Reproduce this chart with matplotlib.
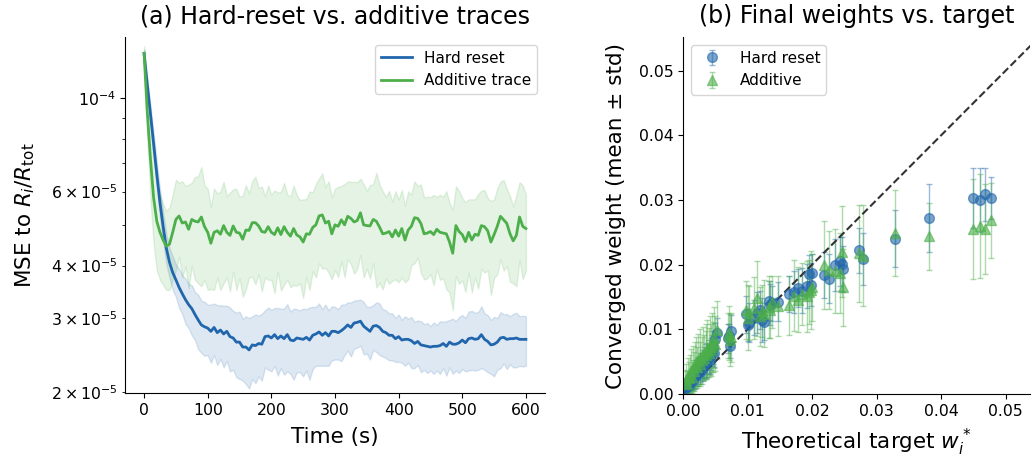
import numpy as np
import matplotlib
matplotlib.use("Agg")
import matplotlib.pyplot as plt
from matplotlib.ticker import FormatStrFormatter, MultipleLocator

# ---------------- Panel (a) data: MSE traces (values in units of 1e-5) ----------------
time_s = list(range(0, 601, 5))

hard_mean = [12.8, 10.8, 9.2, 7.8, 6.6, 5.65, 4.95, 4.40, 4.07, 3.85,
             3.70, 3.55, 3.43, 3.32, 3.23, 3.16, 3.06, 2.97, 2.89, 2.86,
             2.84, 2.79, 2.85, 2.77, 2.81, 2.75, 2.79, 2.71, 2.69, 2.63,
             2.63, 2.56, 2.56, 2.52, 2.59, 2.58, 2.61, 2.60, 2.71, 2.72,
             2.69, 2.74, 2.68, 2.72, 2.68, 2.74, 2.66, 2.65, 2.69, 2.68,
             2.67, 2.70, 2.66, 2.73, 2.75, 2.78, 2.73, 2.77, 2.72, 2.79,
             2.79, 2.77, 2.80, 2.84, 2.89, 2.85, 2.92, 2.93, 2.95, 2.87,
             2.83, 2.79, 2.87, 2.88, 2.85, 2.79, 2.77, 2.73, 2.73, 2.68,
             2.71, 2.66, 2.67, 2.67, 2.65, 2.61, 2.64, 2.59, 2.58, 2.57,
             2.56, 2.57, 2.57, 2.58, 2.61, 2.57, 2.63, 2.60, 2.60, 2.62,
             2.66, 2.62, 2.68, 2.69, 2.67, 2.68, 2.74, 2.67, 2.64, 2.59,
             2.60, 2.63, 2.69, 2.70, 2.67, 2.68, 2.68, 2.69, 2.67, 2.67,
             2.67]
hard_std = [0.30, 0.38, 0.42, 0.45, 0.45, 0.44, 0.40, 0.36, 0.33, 0.35,
            0.33, 0.38, 0.36, 0.41, 0.39, 0.43, 0.40, 0.44, 0.41, 0.42,
            0.39, 0.44, 0.40, 0.45, 0.41, 0.46, 0.42, 0.47, 0.43, 0.46,
            0.48, 0.43, 0.47, 0.48, 0.44, 0.48, 0.43, 0.47, 0.42, 0.46,
            0.45, 0.43, 0.49, 0.44, 0.48, 0.50, 0.45, 0.51, 0.46, 0.45,
            0.49, 0.45, 0.52, 0.46, 0.44, 0.47, 0.42, 0.46, 0.41, 0.41,
            0.40, 0.38, 0.43, 0.39, 0.38, 0.42, 0.38, 0.38, 0.37, 0.41,
            0.36, 0.40, 0.35, 0.39, 0.40, 0.36, 0.36, 0.35, 0.35, 0.32,
            0.35, 0.31, 0.36, 0.32, 0.37, 0.33, 0.32, 0.36, 0.32, 0.35,
            0.31, 0.36, 0.32, 0.37, 0.33, 0.38, 0.34, 0.39, 0.35, 0.40,
            0.39, 0.38, 0.43, 0.43, 0.42, 0.42, 0.46, 0.41, 0.41, 0.38,
            0.42, 0.37, 0.41, 0.36, 0.40, 0.35, 0.39, 0.40, 0.36, 0.37,
            0.36]
add_mean = [12.8, 9.3, 7.2, 5.8, 5.1, 4.8, 4.6, 4.45, 4.5, 4.8,
            5.15, 5.25, 5.05, 5.08, 4.88, 5.15, 5.1, 5.08, 5.22, 4.95,
            4.8, 4.52, 4.8, 4.84, 4.75, 4.98, 4.8, 4.72, 4.97, 4.8,
            4.78, 4.62, 4.86, 4.85, 5.06, 5.06, 4.97, 4.82, 4.8, 4.95,
            4.8, 4.74, 4.92, 4.74, 4.95, 4.8, 4.7, 4.9, 4.73, 4.68,
            4.55, 4.76, 4.75, 4.93, 5.0, 5.25, 5.28, 5.05, 5.1, 4.76,
            5.0, 4.96, 5.14, 5.0, 5.24, 5.18, 5.08, 5.12, 5.34, 5.0,
            4.98, 4.97, 5.15, 5.1, 4.94, 4.76, 4.78, 4.82, 4.68, 4.86,
            4.7, 4.9, 4.6, 4.86, 4.96, 5.2, 5.18, 5.04, 4.76, 4.78,
            4.82, 4.74, 4.88, 4.8, 4.78, 4.76, 4.55, 4.28, 4.98, 4.82,
            4.74, 4.56, 4.8, 4.6, 4.75, 4.72, 4.98, 4.95, 4.84, 4.55,
            4.74, 4.96, 5.24, 5.14, 5.04, 4.76, 4.58, 4.72, 5.22, 4.96,
            4.9]
add_std = [0.5, 1.2, 1.4, 1.3, 1.2, 1.1, 1.0, 0.95, 1.0, 1.1,
           1.25, 1.05, 1.3, 1.1, 1.35, 1.15, 1.4, 1.45, 1.65, 1.25,
           1.3, 1.0, 1.3, 1.1, 1.25, 1.35, 1.05, 1.25, 1.1, 1.3,
           1.05, 1.25, 1.35, 1.1, 1.3, 1.45, 1.15, 1.35, 1.05, 1.25,
           1.1, 1.3, 1.05, 1.25, 1.35, 1.1, 1.15, 1.3, 1.15, 1.05,
           1.2, 1.0, 1.25, 1.05, 1.25, 1.2, 1.35, 1.1, 1.25, 1.05,
           1.1, 1.2, 1.05, 1.25, 1.1, 1.15, 1.25, 1.2, 1.1, 1.25,
           1.05, 1.25, 1.1, 1.55, 1.3, 1.25, 1.05, 1.2, 1.0, 1.15,
           1.05, 1.15, 0.95, 1.15, 0.95, 1.15, 1.0, 1.2, 1.05, 1.05,
           1.0, 1.15, 0.95, 1.1, 1.05, 1.25, 1.1, 1.15, 1.2, 1.2,
           1.05, 1.1, 0.95, 1.15, 1.0, 1.2, 1.05, 1.1, 0.95, 1.15,
           1.0, 1.15, 1.1, 1.25, 1.05, 1.1, 0.95, 1.15, 1.1, 1.25,
           1.0]

# ---------------- Panel (b) data: converged weights ----------------
target = [0.0003, 0.0005, 0.0006, 0.0008, 0.0009, 0.0011, 0.0012, 0.0014, 0.0015, 0.0017,
          0.0019, 0.0020, 0.0022, 0.0024, 0.0026, 0.0027, 0.0029, 0.0031, 0.0033, 0.0035,
          0.0036, 0.0038, 0.0040, 0.0042, 0.0043, 0.0045, 0.0047, 0.0048, 0.0050, 0.0053,
          0.0069, 0.0071, 0.0073, 0.0074, 0.0098, 0.0100, 0.0102, 0.0110, 0.0115, 0.0120,
          0.0122, 0.0126, 0.0133, 0.0135, 0.0138, 0.0148, 0.0164, 0.0172, 0.0179, 0.0184,
          0.0192, 0.0195, 0.0198, 0.0200, 0.0218, 0.0227, 0.0236, 0.0243, 0.0246, 0.0248,
          0.0273, 0.0279, 0.0328, 0.0381, 0.0450, 0.0461, 0.0468, 0.0478]
hard_w = [0.0009, 0.0013, 0.0011, 0.0016, 0.0014, 0.0019, 0.0022, 0.0020, 0.0026, 0.0024,
          0.0029, 0.0033, 0.0030, 0.0037, 0.0034, 0.0041, 0.0045, 0.0040, 0.0048, 0.0052,
          0.0046, 0.0055, 0.0058, 0.0053, 0.0062, 0.0067, 0.0072, 0.0064, 0.0085, 0.0094,
          0.0086, 0.0089, 0.0074, 0.0097, 0.0123, 0.0107, 0.0110, 0.0118, 0.0126, 0.0130,
          0.0115, 0.0112, 0.0144, 0.0138, 0.0140, 0.0143, 0.0155, 0.0158, 0.0164, 0.0160,
          0.0167, 0.0185, 0.0169, 0.0187, 0.0184, 0.0178, 0.0200, 0.0205, 0.0201, 0.0193,
          0.0222, 0.0209, 0.0240, 0.0272, 0.0303, 0.0300, 0.0309, 0.0303]
hard_sd = [0.0010, 0.0012, 0.0011, 0.0014, 0.0012, 0.0015, 0.0016, 0.0014, 0.0018, 0.0016,
           0.0019, 0.0020, 0.0018, 0.0021, 0.0019, 0.0022, 0.0023, 0.0020, 0.0024, 0.0025,
           0.0021, 0.0024, 0.0026, 0.0022, 0.0025, 0.0024, 0.0026, 0.0023, 0.0025, 0.0024,
           0.0022, 0.0020, 0.0018, 0.0025, 0.0028, 0.0025, 0.0030, 0.0027, 0.0032, 0.0030,
           0.0034, 0.0028, 0.0030, 0.0032, 0.0027, 0.0030, 0.0028, 0.0032, 0.0030, 0.0035,
           0.0034, 0.0030, 0.0033, 0.0030, 0.0035, 0.0038, 0.0040, 0.0038, 0.0042, 0.0036,
           0.0035, 0.0040, 0.0044, 0.0053, 0.0046, 0.0050, 0.0041, 0.0033]
add_w = [0.0017, 0.0022, 0.0015, 0.0028, 0.0024, 0.0031, 0.0036, 0.0027, 0.0040, 0.0035,
         0.0044, 0.0050, 0.0041, 0.0053, 0.0047, 0.0058, 0.0052, 0.0062, 0.0056, 0.0066,
         0.0060, 0.0070, 0.0064, 0.0075, 0.0068, 0.0080, 0.0073, 0.0087, 0.0078, 0.0099,
         0.0091, 0.0094, 0.0084, 0.0088, 0.0130, 0.0118, 0.0125, 0.0133, 0.0148, 0.0120,
         0.0128, 0.0124, 0.0135, 0.0130, 0.0142, 0.0136, 0.0137, 0.0152, 0.0146, 0.0155,
         0.0151, 0.0158, 0.0161, 0.0165, 0.0200, 0.0192, 0.0190, 0.0187, 0.0220, 0.0165,
         0.0218, 0.0214, 0.0249, 0.0244, 0.0255, 0.0260, 0.0255, 0.0269]
add_sd = [0.0020, 0.0024, 0.0021, 0.0028, 0.0025, 0.0030, 0.0033, 0.0026, 0.0035, 0.0030,
          0.0036, 0.0038, 0.0032, 0.0040, 0.0034, 0.0042, 0.0036, 0.0041, 0.0035, 0.0043,
          0.0037, 0.0044, 0.0038, 0.0045, 0.0040, 0.0046, 0.0039, 0.0047, 0.0042, 0.0045,
          0.0035, 0.0042, 0.0040, 0.0038, 0.0045, 0.0050, 0.0042, 0.0048, 0.0058, 0.0045,
          0.0040, 0.0052, 0.0048, 0.0044, 0.0040, 0.0046, 0.0045, 0.0055, 0.0050, 0.0048,
          0.0055, 0.0050, 0.0060, 0.0052, 0.0068, 0.0060, 0.0065, 0.0062, 0.0070, 0.0060,
          0.0075, 0.0078, 0.0067, 0.0052, 0.0077, 0.0080, 0.0070, 0.0058]

BLUE = "#2166ac"
GREEN = "#4daf4a"

plt.rcParams["font.family"] = ["DejaVu Sans"]

fig = plt.figure(figsize=(10.32, 4.63), dpi=100)
axA = fig.add_axes([0.1211, 0.1512, 0.407, 0.769])
axB = fig.add_axes([0.6618, 0.1490, 0.3364, 0.7710])

# ---- Panel (a) ----
t = np.array(time_s)
scale = 1e-5
hm = np.array(hard_mean) * scale
hs = np.array(hard_std) * scale
am = np.array(add_mean) * scale
as_ = np.array(add_std) * scale

axA.fill_between(t, hm - hs, hm + hs, color=BLUE, alpha=0.15, linewidth=1)
axA.fill_between(t, am - as_, am + as_, color=GREEN, alpha=0.15, linewidth=1)
axA.plot(t, hm, color=BLUE, lw=2, label="Hard reset")
axA.plot(t, am, color=GREEN, lw=2, label="Additive trace")
axA.set_yscale("log")
axA.set_xlim(-30, 630)
axA.set_ylim(1.99e-5, 1.40e-4)
axA.xaxis.set_major_locator(MultipleLocator(100))
axA.set_xlabel("Time (s)", fontsize=15.5, labelpad=7)
axA.set_ylabel(r"MSE to $R_i/R_{\rm tot}$", fontsize=15.5, labelpad=10)
axA.set_title("(a) Hard-reset vs. additive traces", fontsize=17, pad=10)
axA.tick_params(axis="both", which="both", labelsize=11.3)
axA.spines["top"].set_visible(False)
axA.spines["right"].set_visible(False)
axA.legend(loc="upper right", fontsize=11, framealpha=0.8)

# ---- Panel (b) ----
def draw_eb(ax, x, y, e, fmt, color, label):
    cont = ax.errorbar(x, y, yerr=e, fmt=fmt, color=color, alpha=0.6,
                       ms=7, capsize=2, elinewidth=1, label=label)
    for cl in cont[1]:
        cl.set_alpha(0.45)
    for bl in cont[2]:
        bl.set_alpha(0.45)
    return cont

draw_eb(axB, target, hard_w, hard_sd, "o", BLUE, "Hard reset")
draw_eb(axB, target, add_w, add_sd, "^", GREEN, "Additive")
lim = 0.0552
axB.plot([0, lim], [0, lim], "--", color="#333333", lw=1.5)
axB.set_xlim(0, 0.0538)
axB.set_ylim(0, lim)
axB.xaxis.set_major_locator(MultipleLocator(0.01))
axB.yaxis.set_major_locator(MultipleLocator(0.01))
axB.xaxis.set_major_formatter(FormatStrFormatter("%.2f"))
axB.yaxis.set_major_formatter(FormatStrFormatter("%.2f"))
axB.set_xlabel(r"Theoretical target $w_i^*$", fontsize=15.5, labelpad=6)
axB.set_ylabel("Converged weight (mean ± std)", fontsize=15.5, labelpad=9)
axB.set_title("(b) Final weights vs. target", fontsize=17, pad=10)
axB.tick_params(axis="both", labelsize=11.3)
axB.spines["top"].set_visible(False)
axB.spines["right"].set_visible(False)
axB.legend(loc="upper left", fontsize=11, framealpha=0.8)

fig.savefig("out.png", dpi=100)
